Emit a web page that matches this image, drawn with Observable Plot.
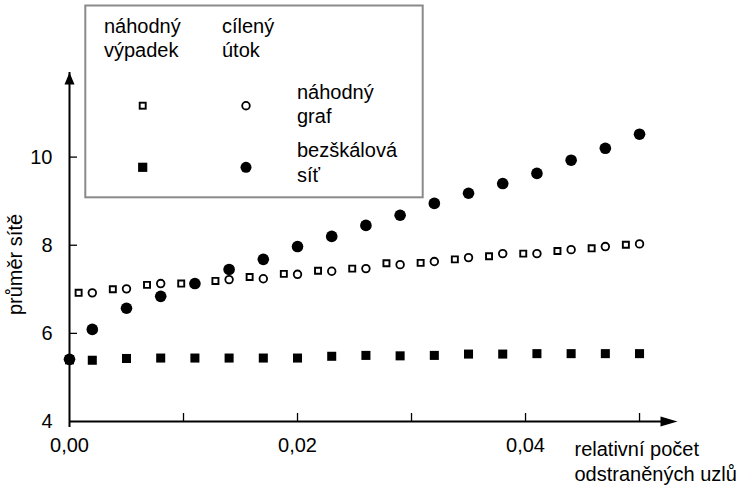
<!DOCTYPE html>
<html>
<head>
<meta charset="utf-8">
<script src="https://cdn.jsdelivr.net/npm/d3@7"></script>
<script src="https://cdn.jsdelivr.net/npm/@observablehq/plot@0.6"></script>
<style>
  html, body { margin: 0; padding: 0; background: #fff; }
  #wrap { position: relative; width: 744px; height: 485px; font-family: "Liberation Sans", Arial, sans-serif; }
  #legend { position: absolute; left: 0; top: 0; }
</style>
</head>
<body>
<div id="wrap"></div>
<script>
// ---- data ----
const xScaleFree = [0, 0.002, 0.005, 0.008, 0.011, 0.014, 0.017, 0.020, 0.023, 0.026, 0.029, 0.032, 0.035, 0.038, 0.041, 0.044, 0.047, 0.050];
const sfAttack  = [5.41, 6.09, 6.57, 6.84, 7.13, 7.45, 7.68, 7.97, 8.20, 8.45, 8.68, 8.95, 9.18, 9.40, 9.63, 9.93, 10.20, 10.52];
const sfFailure = [5.40, 5.39, 5.43, 5.44, 5.44, 5.44, 5.44, 5.44, 5.48, 5.50, 5.49, 5.50, 5.53, 5.53, 5.54, 5.54, 5.54, 5.54];
const xRandomAttack = [0.002, 0.005, 0.008, 0.011, 0.014, 0.017, 0.020, 0.023, 0.026, 0.029, 0.032, 0.035, 0.038, 0.041, 0.044, 0.047, 0.050];
const rgAttack = [6.92, 7.01, 7.13, 7.13, 7.22, 7.24, 7.34, 7.41, 7.47, 7.56, 7.63, 7.72, 7.81, 7.81, 7.90, 7.97, 8.03];
const xRandomFailure = [0.0008, 0.0038, 0.0068, 0.0098, 0.0128, 0.0158, 0.0188, 0.0218, 0.0248, 0.0278, 0.0308, 0.0338, 0.0368, 0.0398, 0.0428, 0.0458, 0.0488];
const rgFailure = [6.92, 7.00, 7.10, 7.13, 7.19, 7.28, 7.35, 7.42, 7.47, 7.59, 7.60, 7.68, 7.75, 7.81, 7.87, 7.93, 8.01];

const xTickValues = [0.01, 0.02, 0.03, 0.04, 0.05];
const xLabelValues = [0, 0.02, 0.04];
const yTickValues = [6, 8, 10];
const yLabelValues = [4, 6, 8, 10];
const xAxisEnd = 0.05333;
const yMin = 4;
const yAxisEnd = 11.92;

const xTitle = "relativní počet\nodstraněných uzlů";
const yTitle = "průměr sítě";
const colHeaders = ["náhodný\nvýpadek", "cílený\nútok"];
const rowLabels = ["náhodný\ngraf", "bezškálová\nsíť"];

// ---- build tables ----
const sfAttackData = xScaleFree.map((x, i) => ({x, y: sfAttack[i]}));
const sfFailureData = xScaleFree.map((x, i) => ({x, y: sfFailure[i]}));
const rgAttackData = xRandomAttack.map((x, i) => ({x, y: rgAttack[i]}));
const rgFailureData = xRandomFailure.map((x, i) => ({x, y: rgFailure[i]}));

const fmt = d => d.toFixed(2).replace(".", ",");

const arrowRight = {draw(ctx) { ctx.moveTo(0, 0); ctx.lineTo(-17, -5); ctx.lineTo(-17, 5); ctx.closePath(); }};
const arrowUp = {draw(ctx) { ctx.moveTo(0, 0); ctx.lineTo(-5, 12); ctx.lineTo(5, 12); ctx.closePath(); }};

const chart = Plot.plot({
  width: 744,
  height: 485,
  marginLeft: 69,
  marginRight: 67,
  marginTop: 72,
  marginBottom: 64,
  style: {fontSize: "20px", fontFamily: "'Liberation Sans', Arial, sans-serif", background: "white", color: "black"},
  x: {domain: [0, xAxisEnd]},
  y: {domain: [yMin, yAxisEnd]},
  marks: [
    // axes lines
    Plot.ruleY([yMin], {x1: 0, x2: xAxisEnd, strokeWidth: 2, insetRight: 8}),
    Plot.ruleX([0], {y1: yMin, y2: yAxisEnd, strokeWidth: 2, insetTop: 6}),
    Plot.dot([{x: xAxisEnd, y: yMin}], {x: "x", y: "y", symbol: arrowRight, fill: "black", stroke: "none"}),
    Plot.dot([{x: 0, y: yAxisEnd}], {x: "x", y: "y", symbol: arrowUp, fill: "black", stroke: "none"}),
    // inward ticks
    Plot.axisX({ticks: xTickValues, tickSize: 8, dy: -8, fill: "none", strokeWidth: 1.3, label: null}),
    Plot.axisY({ticks: yTickValues, tickSize: 8, dx: 8, fill: "none", strokeWidth: 1.3, label: null}),
    // tick labels
    Plot.axisX({ticks: xLabelValues, tickSize: 0, tickPadding: 16, tickFormat: fmt, label: null, fontSize: 20}),
    Plot.axisY({ticks: yLabelValues, tickSize: 0, tickPadding: 17, tickFormat: d => String(d), label: null, fontSize: 20}),
    // titles
    Plot.text([xTitle], {frameAnchor: "bottom-right", text: d => d, textAnchor: "start", lineAnchor: "top", lineHeight: 1.25, dx: -103, dy: 17, fontSize: 20}),
    Plot.text([yTitle], {frameAnchor: "left", text: d => d, rotate: -90, textAnchor: "middle", lineAnchor: "middle", dx: -54, dy: 17.5, fontSize: 20}),
    // data
    Plot.dot(rgFailureData, {x: "x", y: "y", symbol: "square", r: 3.4, stroke: "black", strokeWidth: 1.9, fill: "white"}),
    Plot.dot(rgAttackData, {x: "x", y: "y", symbol: "circle", r: 3.8, stroke: "black", strokeWidth: 1.8, fill: "white"}),
    Plot.dot(sfFailureData, {x: "x", y: "y", symbol: "square", r: 5.1, fill: "black", stroke: "none"}),
    Plot.dot(sfAttackData, {x: "x", y: "y", symbol: "circle", r: 5.8, fill: "black", stroke: "none"})
  ]
});

const wrap = document.getElementById("wrap");
wrap.appendChild(chart);

// ---- legend box (overlay) ----
const lg = d3.select(wrap).append("svg")
  .attr("id", "legend")
  .attr("width", 744).attr("height", 485)
  .style("font-family", "'Liberation Sans', Arial, sans-serif")
  .style("font-size", "20px")
  .style("pointer-events", "none");

lg.append("rect").attr("x", 85.3).attr("y", 5.5).attr("width", 337.4).attr("height", 191.8)
  .attr("fill", "white").attr("stroke", "#8a8a8a").attr("stroke-width", 2);

function multiline(x, y, str, lh) {
  const t = lg.append("text").attr("x", x).attr("y", y).attr("fill", "black");
  str.split("\n").forEach((s, i) => t.append("tspan").attr("x", x).attr("y", y + i * lh).text(s));
}
multiline(104, 33, colHeaders[0], 24);
multiline(222, 33, colHeaders[1], 24);
multiline(297, 98.5, rowLabels[0], 24.5);
multiline(297, 157, rowLabels[1], 25);

// legend markers
lg.append("rect").attr("x", 142.7 - 3).attr("y", 105.7 - 3).attr("width", 6).attr("height", 6)
  .attr("fill", "white").attr("stroke", "black").attr("stroke-width", 1.9);
lg.append("circle").attr("cx", 246).attr("cy", 105.7).attr("r", 3.8)
  .attr("fill", "white").attr("stroke", "black").attr("stroke-width", 1.8);
lg.append("rect").attr("x", 142.7 - 4.6).attr("y", 167.3 - 4.6).attr("width", 9.2).attr("height", 9.2)
  .attr("fill", "black");
lg.append("circle").attr("cx", 246).attr("cy", 167.3).attr("r", 5.5).attr("fill", "black");
</script>
</body>
</html>
